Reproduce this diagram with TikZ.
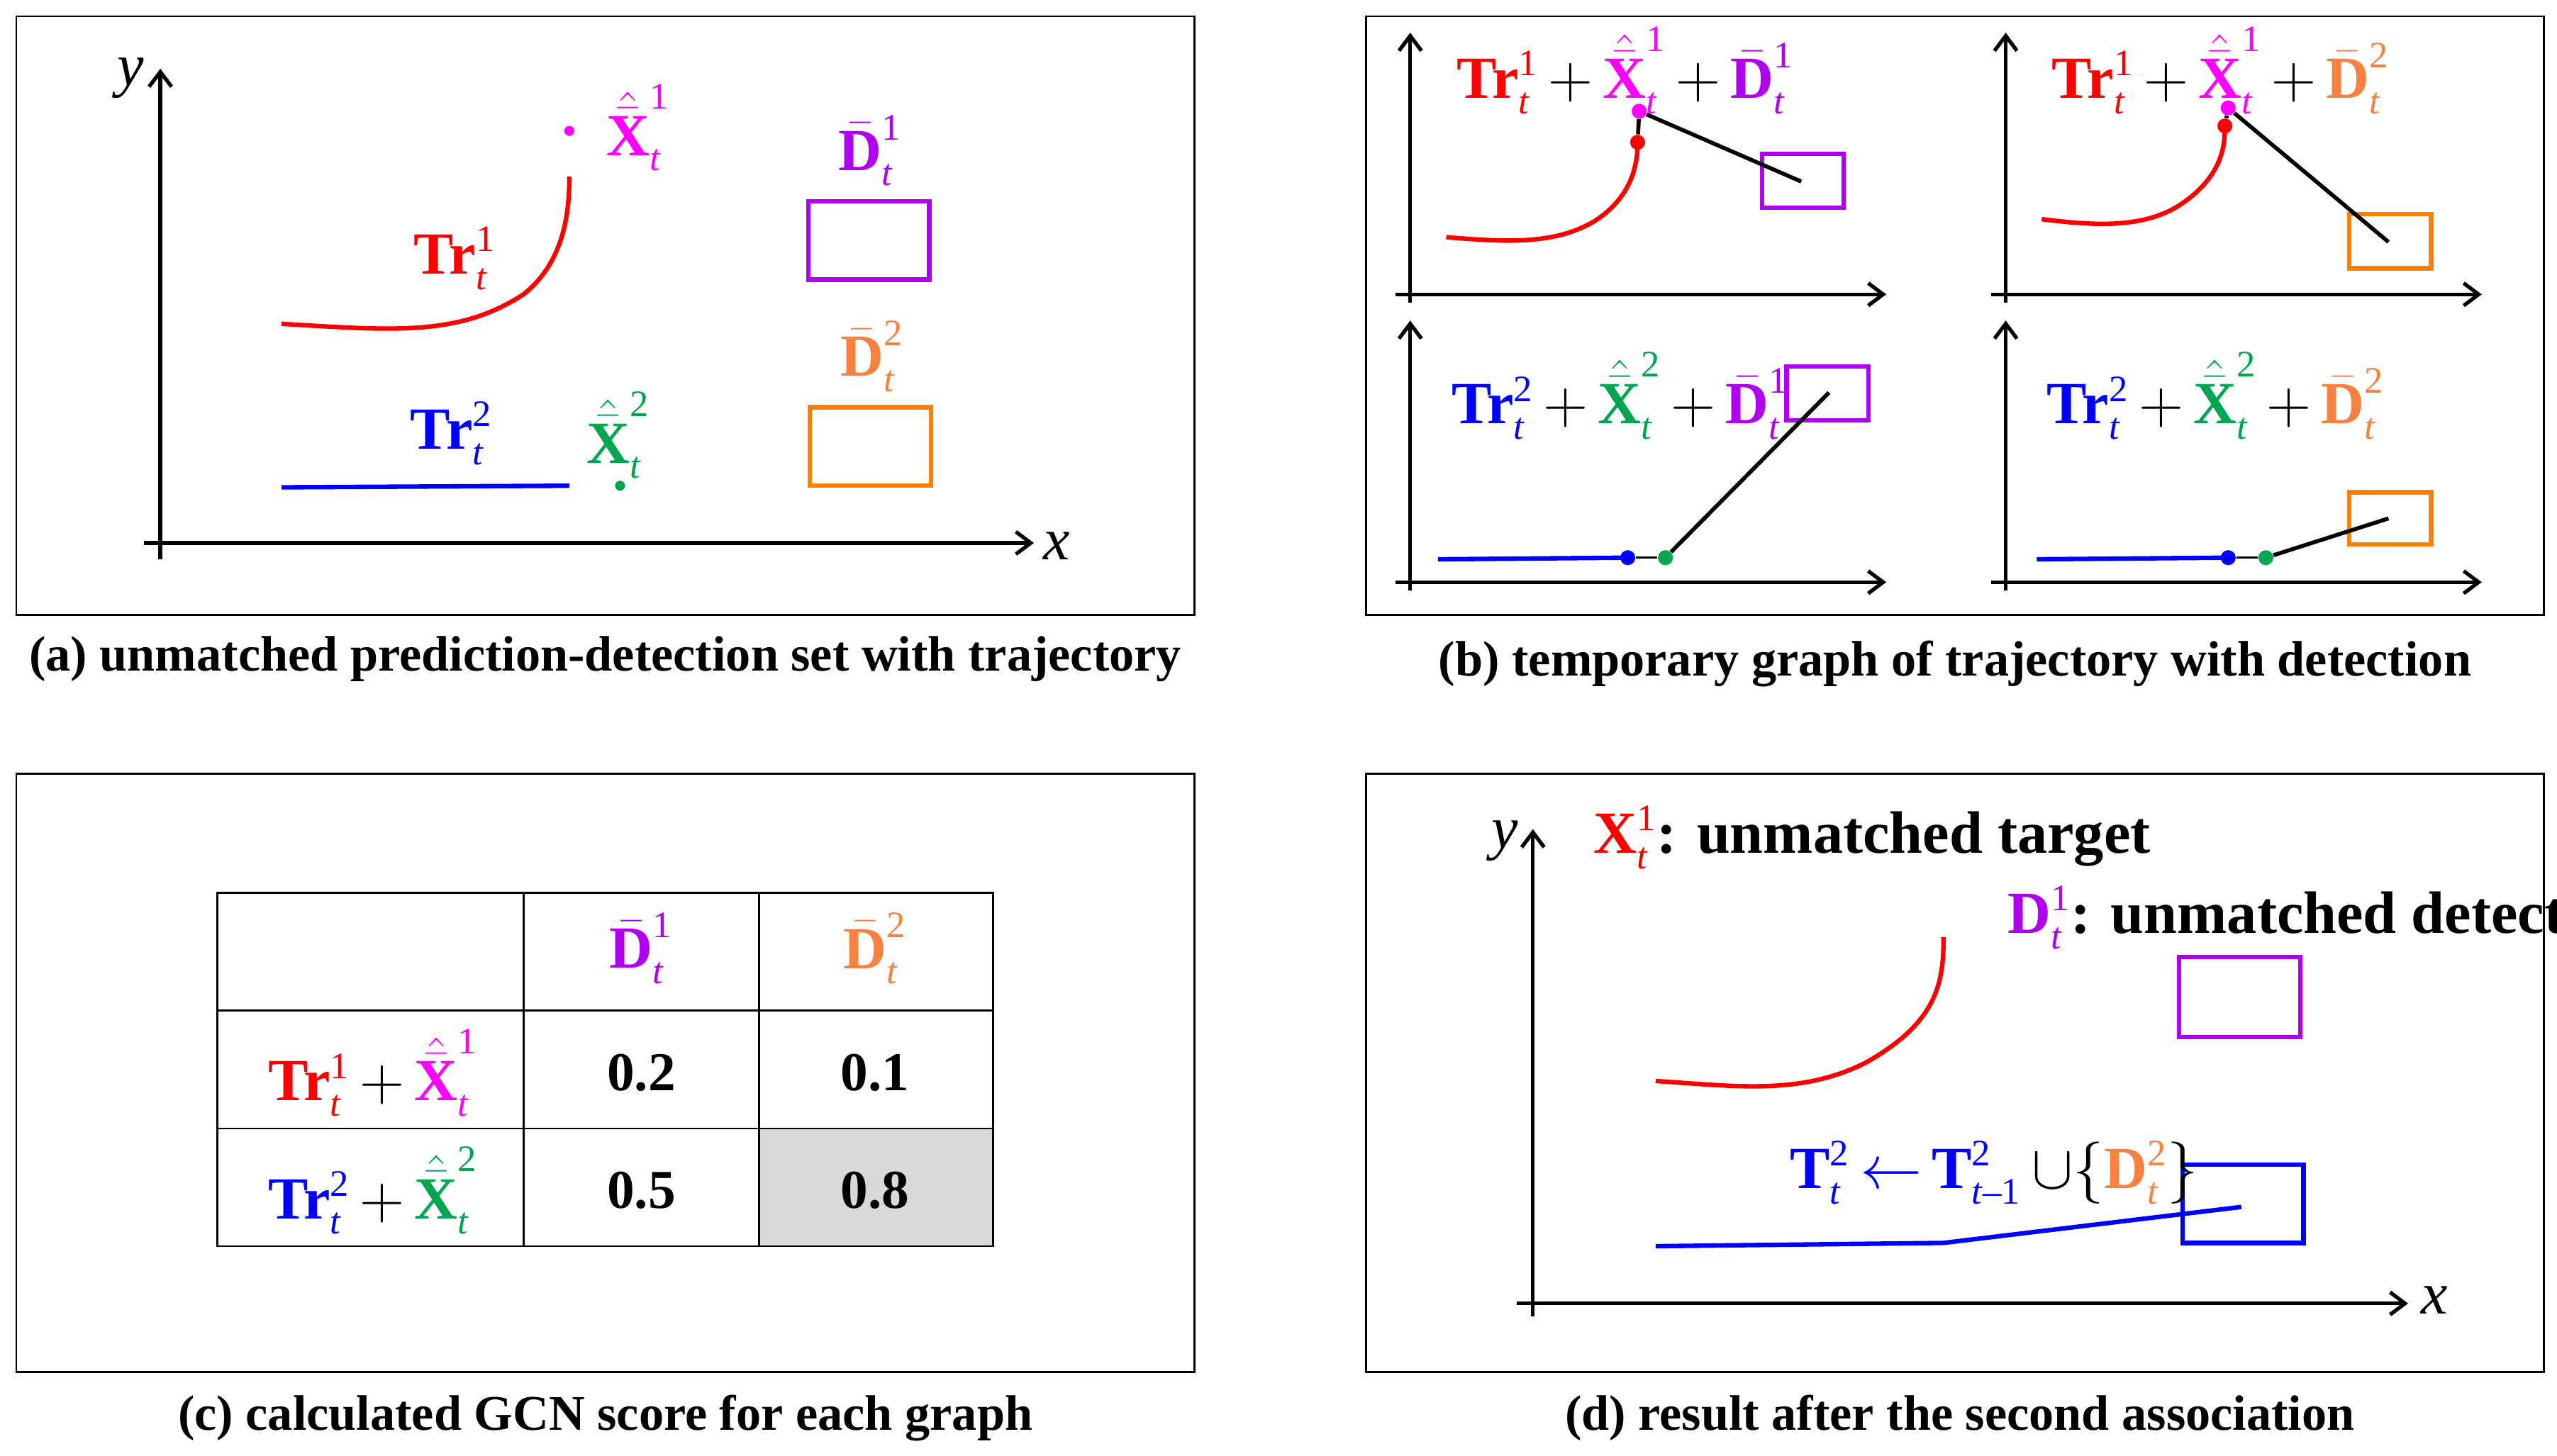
\documentclass[tikz,border=0pt]{standalone}
\usepackage{fontspec}
\usetikzlibrary{arrows.meta}
\setmainfont{Liberation Serif}
\definecolor{cred}{HTML}{FF0000}
\definecolor{cmag}{HTML}{FF00FF}
\definecolor{cpur}{HTML}{B000F0}
\definecolor{corg}{HTML}{FF8000}
\definecolor{corgt}{HTML}{F58240}
\definecolor{cgrn}{HTML}{00A550}
\definecolor{cblu}{HTML}{0000FF}
\definecolor{cgray}{HTML}{D9D9D9}
\newcommand{\SX}[3]{\mbox{\bfseries #1}$^{\mbox{\fontsize{15}{15}\selectfont #2}}_{\mbox{\fontsize{15}{15}\selectfont\itshape #3}}$}
\newcommand{\XH}[2]{$\hat{\bar{\mbox{\bfseries X}}}^{\mbox{\fontsize{15}{15}\selectfont #1}}_{\mbox{\fontsize{15}{15}\selectfont\itshape #2}}$}
\newcommand{\DB}[2]{$\bar{\mbox{\bfseries D}}^{\mbox{\fontsize{15}{15}\selectfont #1}}_{\mbox{\fontsize{15}{15}\selectfont\itshape #2}}$}
\newcommand{\PL}{\,$+$\,}
\begin{document}
\begin{tikzpicture}[x=0.02307cm,y=-0.02307cm,
  panel/.style={draw=black,line width=0.8pt},
  ax/.style={draw=black,line width=1.5pt,-{Straight Barb[length=6pt,width=9pt]}},
  lab/.style={font=\fontsize{24}{28}\selectfont,inner sep=0pt},
  captxt/.style={font=\fontsize{20}{24}\selectfont\bfseries,inner sep=0pt},
  bx/.style={line width=1.8pt},
  trk/.style={line width=1.8pt},
  link/.style={draw=black,line width=1.6pt},
  dot/.style={circle,inner sep=0pt,minimum size=6pt},
  ttxt/.style={font=\fontsize{22}{26}\selectfont\bfseries,inner sep=0pt}]
\useasboundingbox (0,0) rectangle (1563,890);
% ---------- (a)
\draw[panel] (10,10) rectangle (730,376);
\draw[ax] (98,342) -- (98,42);
\draw[ax] (88,332) -- (632,332);
\node[lab] (ay) at (80,48) {\itshape y};
\node[lab] (axx) at (646,334) {\itshape x};
\draw[cred,trk] (172,198) .. controls (240,202) and (280,206) .. (320,180) .. controls (345,160) and (348,130) .. (348,108);
\node[dot,fill=cmag,minimum size=4pt] (ap1) at (348,80) {};
\node[lab,text=cmag] (axh1) at (390,78) {\XH{1}{t}};
\node[lab,text=cred] (atr1) at (278,158) {\SX{Tr}{1}{t}};
\draw[cpur,bx] (494,123) rectangle (568,171);
\node[lab,text=cpur] (ald1) at (532,92) {\DB{1}{t}};
\draw[corg,bx] (495,249) rectangle (569,297);
\node[lab,text=corgt] (ald2) at (533,218) {\DB{2}{t}};
\draw[cblu,trk] (172,298) -- (348,297);
\node[dot,fill=cgrn,minimum size=4pt] (ap2) at (379,297) {};
\node[lab,text=cgrn] (axh2) at (378,266) {\XH{2}{t}};
\node[lab,text=cblu] (atr2) at (276,265) {\SX{Tr}{2}{t}};
\node[captxt] (capa) at (370,403) {(a) unmatched prediction-detection set with trajectory};
% ---------- (b)
\draw[panel] (835,10) rectangle (1555,376);
\foreach \ox/\oy in {0/0,364/0,0/176,364/176}{
  \draw[ax] (862+\ox,185+\oy) -- (862+\ox,20+\oy);
  \draw[ax] (853+\ox,180+\oy) -- (1153+\ox,180+\oy);
}
% TL
\draw[cred,trk] (884,145) .. controls (920,148) and (950,150) .. (975,135) .. controls (998,120) and (1001,100) .. (1001,87);
\node[dot,fill=cred] (b1r) at (1001,87) {};
\node[dot,fill=cmag] (b1m) at (1002,68) {};
\draw[cpur,bx] (1077,94) rectangle (1127,127);
\coordinate (b1c) at (1101,111);
\draw[link] (b1r) -- (b1m);
\draw[link] (b1m) -- (b1c);
\node[lab,text=cred,anchor=west] (b1l) at (890,43) {\SX{Tr}{1}{t}\textcolor{black}{\PL}\textcolor{cmag}{\XH{1}{t}}\textcolor{black}{\PL}\textcolor{cpur}{\DB{1}{t}}};
% TR
\draw[cred,trk] (1248,134) .. controls (1280,138) and (1310,140) .. (1333,125) .. controls (1358,108) and (1360,90) .. (1360,77);
\node[dot,fill=cred] (b2r) at (1360,77) {};
\node[dot,fill=cmag] (b2m) at (1362,66) {};
\draw[corg,bx] (1436,131) rectangle (1486,164);
\coordinate (b2c) at (1460,148);
\draw[link] (b2r) -- (b2m);
\draw[link] (b2m) -- (b2c);
\node[lab,text=cred,anchor=west] (b2l) at (1254,43) {\SX{Tr}{1}{t}\textcolor{black}{\PL}\textcolor{cmag}{\XH{1}{t}}\textcolor{black}{\PL}\textcolor{corgt}{\DB{2}{t}}};
% BL
\draw[cblu,trk] (879,342) -- (995,341);
\node[dot,fill=cblu] (b3b) at (995,341) {};
\node[dot,fill=cgrn] (b3g) at (1018,341) {};
\draw[cpur,bx] (1092,224) rectangle (1142,257);
\coordinate (b3c) at (1118,240);
\draw[link,line width=1pt] (b3b) -- (b3g);
\draw[link] (b3g) -- (b3c);
\node[lab,text=cblu,anchor=west] (b3l) at (887,242) {\SX{Tr}{2}{t}\textcolor{black}{\PL}\textcolor{cgrn}{\XH{2}{t}}\textcolor{black}{\PL}\textcolor{cpur}{\DB{1}{t}}};
% BR
\draw[cblu,trk] (1245,342) -- (1362,341);
\node[dot,fill=cblu] (b4b) at (1362,341) {};
\node[dot,fill=cgrn] (b4g) at (1385,341) {};
\draw[corg,bx] (1436,301) rectangle (1486,333);
\coordinate (b4c) at (1460,317);
\draw[link,line width=1pt] (b4b) -- (b4g);
\draw[link] (b4g) -- (b4c);
\node[lab,text=cblu,anchor=west] (b4l) at (1251,242) {\SX{Tr}{2}{t}\textcolor{black}{\PL}\textcolor{cgrn}{\XH{2}{t}}\textcolor{black}{\PL}\textcolor{corgt}{\DB{2}{t}}};
\node[captxt] (capb) at (1195,406) {(b) temporary graph of trajectory with detection};
% ---------- (c)
\draw[panel] (10,473) rectangle (730,839);
\fill[cgray] (464,690) rectangle (607,762);
\draw[line width=0.8pt] (133,546) rectangle (607,762);
\draw[line width=0.8pt] (320,546) -- (320,762) (464,546) -- (464,762) (133,618) -- (607,618) (133,690) -- (607,690);
\node[lab,text=cpur] (cd1) at (392,580) {\DB{1}{t}};
\node[lab,text=corgt] (cd2) at (535,580) {\DB{2}{t}};
\node[lab,text=cred] (cr1) at (228,656) {\SX{Tr}{1}{t}\textcolor{black}{\PL}\textcolor{cmag}{\XH{1}{t}}};
\node[lab,text=cblu] (cr2) at (228,728) {\SX{Tr}{2}{t}\textcolor{black}{\PL}\textcolor{cgrn}{\XH{2}{t}}};
\node[ttxt] (c11) at (392,656) {0.2};
\node[ttxt] (c12) at (535,656) {0.1};
\node[ttxt] (c21) at (392,728) {0.5};
\node[ttxt] (c22) at (535,728) {0.8};
\node[captxt] (capc) at (370,867) {(c) calculated GCN score for each graph};
% ---------- (d)
\draw[panel] (835,473) rectangle (1555,839);
\draw[ax] (937,805) -- (937,507);
\draw[ax] (927,797) -- (1472,797);
\node[lab] (dy) at (920,514) {\itshape y};
\node[lab] (dx) at (1488,795) {\itshape x};
\draw[cred,trk] (1012,661) .. controls (1060,664) and (1100,670) .. (1140,650) .. controls (1185,625) and (1188,600) .. (1188,573);
\draw[cpur,bx] (1332,585) rectangle (1406,634);
\draw[cblu,bx] (1334,712) rectangle (1408,760);
\coordinate (d0) at (1012,762);
\coordinate (d1) at (1188,760);
\coordinate (d2) at (1370,738);
\draw[cblu,trk] (d0) -- (d1) -- (d2);
\node[lab,anchor=west] (dt1) at (974,512) {\textcolor{cred}{\mbox{\bfseries X}$^{\mbox{\fontsize{15}{15}\selectfont 1}}_{\mbox{\fontsize{15}{15}\selectfont\itshape t}}$}\textbf{: unmatched target}};
\node[lab,anchor=west] (dt2) at (1227,561) {\textcolor{cpur}{\mbox{\bfseries D}$^{\mbox{\fontsize{15}{15}\selectfont 1}}_{\mbox{\fontsize{15}{15}\selectfont\itshape t}}$}\textbf{: unmatched detection}};
\node[lab,text=cblu,anchor=west] (dt3) at (1094,717) {\SX{T}{2}{t}\,$\leftarrow$\,\SX{T}{2}{t\textup{--1}}\,\textcolor{black}{$\cup\{$}\textcolor{corgt}{\SX{D}{2}{t}}\textcolor{black}{$\}$}};
\node[captxt] (capd) at (1198,867) {(d) result after the second association};
\end{tikzpicture}
\end{document}
